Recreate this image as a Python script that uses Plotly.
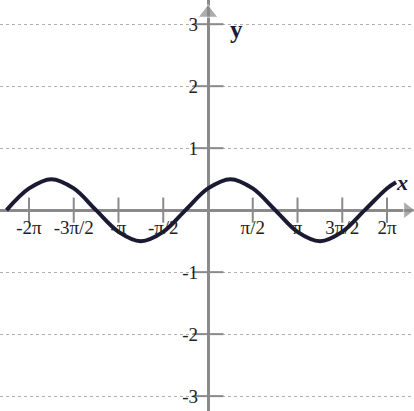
import plotly.graph_objects as go

# points (x in radians, y)
CURVE_X = [-7.07, -6.28, -5.50, -4.71, -3.93, -3.14, -2.36, -1.57, -0.79,
           0.0, 0.79, 1.57, 2.36, 3.14, 3.93, 4.71, 5.50, 6.28, 6.60]
CURVE_Y = [0.0, 0.35, 0.5, 0.35, 0.0, -0.35, -0.5, -0.35, 0.0,
           0.35, 0.5, 0.35, 0.0, -0.35, -0.5, -0.35, 0.0, 0.35, 0.45]

X_TICKS = [-6.2832, -4.7124, -3.1416, -1.5708, 1.5708, 3.1416, 4.7124, 6.2832]
X_LABELS = ["-2π", "-3π/2", "-π", "-π/2", "π/2", "π", "3π/2", "2π"]
Y_TICKS = [-3, -2, -1, 1, 2, 3]
Y_LABELS = ["-3", "-2", "-1", "1", "2", "3"]

X_RANGE = [-7.30, 7.23]
Y_RANGE = [-3.24, 3.39]

AXIS_GREY = "#8a8a8a"
TEXT = "#222222"
FONT = "Liberation Serif"

fig = go.Figure()

# tick marks crossing the axes
fig.add_trace(go.Scatter(
    x=X_TICKS, y=[0] * len(X_TICKS), mode="markers",
    marker=dict(symbol="line-ns", size=18, line=dict(color=AXIS_GREY, width=2)),
    hoverinfo="skip", showlegend=False,
))
fig.add_trace(go.Scatter(
    x=[0] * len(Y_TICKS), y=Y_TICKS, mode="markers",
    marker=dict(symbol="line-ew", size=22, line=dict(color=AXIS_GREY, width=2)),
    hoverinfo="skip", showlegend=False,
))

# arrow heads
fig.add_trace(go.Scatter(
    x=[0, 7.0], y=[3.18, 0], mode="markers",
    marker=dict(symbol=["triangle-up", "triangle-right"], size=[17, 15],
                color=AXIS_GREY),
    hoverinfo="skip", showlegend=False,
))

fig.add_trace(go.Scatter(
    x=CURVE_X, y=CURVE_Y, mode="lines",
    line=dict(color="#1a1a33", width=4, shape="spline", smoothing=1.0),
    showlegend=False,
))

y0_frac = (0 - Y_RANGE[0]) / (Y_RANGE[1] - Y_RANGE[0])
x0_frac = (0 - X_RANGE[0]) / (X_RANGE[1] - X_RANGE[0])

fig.update_layout(
    width=414, height=411,
    margin=dict(l=0, r=0, t=0, b=0, autoexpand=False),
    paper_bgcolor="white", plot_bgcolor="white",
    font=dict(family=FONT, size=19, color=TEXT),
    xaxis=dict(
        range=X_RANGE, anchor="free", position=y0_frac, automargin=False,
        tickvals=X_TICKS, ticktext=X_LABELS, ticks="",
        ticklabelstandoff=4,
        showgrid=False, zeroline=True, zerolinecolor=AXIS_GREY, zerolinewidth=3,
        showline=False, fixedrange=True,
    ),
    yaxis=dict(
        range=Y_RANGE, anchor="free", position=x0_frac, automargin=False,
        tickvals=Y_TICKS, ticktext=Y_LABELS, ticks="",
        ticklabelstandoff=10,
        showgrid=True, gridcolor="#b0b0b0", griddash="dot", gridwidth=1,
        zeroline=True, zerolinecolor=AXIS_GREY, zerolinewidth=3,
        showline=False, fixedrange=True,
    ),
    annotations=[
        dict(x=1.0, y=2.92, text="<b>y</b>", showarrow=False,
             font=dict(family=FONT, size=25, color="#1a1a33")),
        dict(x=6.8, y=0.45, text="<b><i>x</i></b>", showarrow=False,
             font=dict(family=FONT, size=22, color="#1a1a33")),
    ],
)

# the page body has a default 8px margin; drop it so the figure fills the window
fig.write_html("out.html", config={"displayModeBar": False},
               post_script="document.body.style.margin = '0';")
